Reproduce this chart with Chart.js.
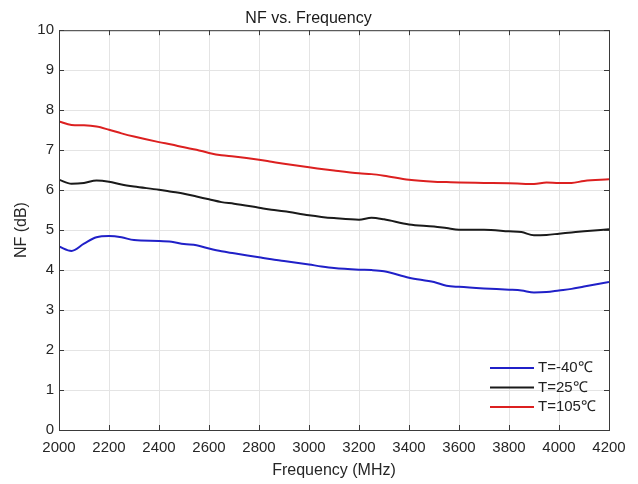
<!DOCTYPE html>
<html>
<head>
<meta charset="utf-8">
<script src="https://cdn.jsdelivr.net/npm/chart.js@4"></script>
<style>
  html, body { margin: 0; padding: 0; background: #fff; }
  #wrap { width: 638px; height: 484px; }
</style>
</head>
<body>
<div id="wrap"><canvas id="grafico" width="638" height="484"></canvas></div>
<script>
const freq = [2000, 2050, 2100, 2150, 2200, 2250, 2300, 2400, 2450, 2500, 2550, 2600, 2650, 2700,
  2800, 2850, 2900, 3000, 3050, 3100, 3200, 3250, 3300, 3400, 3500, 3550, 3600, 3700, 3800, 3850,
  3900, 3950, 4000, 4050, 4100, 4200];

const nfMinus40 = [4.59, 4.48, 4.66, 4.82, 4.85, 4.82, 4.75, 4.73, 4.71, 4.65, 4.62, 4.54, 4.47, 4.42,
  4.32, 4.27, 4.23, 4.14, 4.09, 4.05, 4.01, 4.00, 3.97, 3.81, 3.70, 3.61, 3.58, 3.54, 3.51, 3.49,
  3.44, 3.45, 3.49, 3.53, 3.59, 3.70];

const nf25 = [6.26, 6.16, 6.18, 6.24, 6.21, 6.14, 6.09, 6.01, 5.96, 5.91, 5.84, 5.77, 5.70, 5.66,
  5.56, 5.51, 5.47, 5.37, 5.33, 5.30, 5.26, 5.31, 5.27, 5.14, 5.09, 5.05, 5.01, 5.01, 4.97, 4.95,
  4.87, 4.88, 4.91, 4.94, 4.97, 5.02];

const nf105 = [7.72, 7.63, 7.62, 7.59, 7.51, 7.42, 7.34, 7.20, 7.14, 7.07, 7.01, 6.93, 6.87, 6.84,
  6.76, 6.71, 6.66, 6.57, 6.53, 6.49, 6.42, 6.40, 6.36, 6.26, 6.21, 6.20, 6.19, 6.18, 6.17, 6.16,
  6.15, 6.19, 6.18, 6.18, 6.23, 6.27];

const xTicks = [2000, 2200, 2400, 2600, 2800, 3000, 3200, 3400, 3600, 3800, 4000, 4200];
const yTicks = [0, 1, 2, 3, 4, 5, 6, 7, 8, 9, 10];

const serie = (valores) => freq.map((f, i) => ({ x: f, y: valores[i] }));

// caixa, ticks para dentro e legenda estilo MATLAB
const caixaPlugin = {
  id: 'caixa',
  afterDraw(chart) {
    const { ctx, chartArea: a, scales: { x, y } } = chart;
    ctx.save();
    ctx.strokeStyle = '#3a3a3a';
    ctx.lineWidth = 1;
    ctx.strokeRect(a.left + 0.5, a.top + 0.5, a.right - a.left, a.bottom - a.top);
    ctx.beginPath();
    xTicks.forEach(t => {
      const px = Math.round(x.getPixelForValue(t)) + 0.5;
      ctx.moveTo(px, a.bottom); ctx.lineTo(px, a.bottom - 5);
      ctx.moveTo(px, a.top); ctx.lineTo(px, a.top + 5);
    });
    yTicks.forEach(t => {
      const py = Math.round(y.getPixelForValue(t)) + 0.5;
      ctx.moveTo(a.left, py); ctx.lineTo(a.left + 5, py);
      ctx.moveTo(a.right, py); ctx.lineTo(a.right - 5, py);
    });
    ctx.stroke();

    // legenda
    ctx.font = '15px "Liberation Sans", Arial, sans-serif';
    ctx.textBaseline = 'middle';
    ctx.fillStyle = '#222';
    chart.data.datasets.forEach((ds, i) => {
      const ly = 368 + i * 19.5;
      ctx.strokeStyle = ds.borderColor;
      ctx.lineWidth = 2;
      ctx.beginPath();
      ctx.moveTo(490, ly); ctx.lineTo(534, ly);
      ctx.stroke();
      ctx.fillText(ds.label, 538, ly);
    });
    ctx.restore();
  }
};

const ctxGrafico = document.getElementById('grafico').getContext('2d');

new Chart(ctxGrafico, {
  type: 'line',
  data: {
    datasets: [
      { label: 'T=-40℃', data: serie(nfMinus40), borderColor: '#2020c8' },
      { label: 'T=25℃', data: serie(nf25), borderColor: '#1a1a1a' },
      { label: 'T=105℃', data: serie(nf105), borderColor: '#dc2020' }
    ]
  },
  options: {
    responsive: false,
    animation: false,
    layout: { padding: { top: 0, right: 29, bottom: 0, left: 8 } },
    elements: {
      point: { radius: 0 },
      line: { borderWidth: 2, tension: 0.3, cubicInterpolationMode: 'monotone' }
    },
    plugins: {
      legend: { display: false },
      tooltip: { enabled: false },
      title: {
        display: true,
        text: 'NF vs. Frequency',
        color: '#1a1a1a',
        font: { family: '"Liberation Sans", Arial, sans-serif', size: 16, weight: 'normal' },
        padding: { top: 9, bottom: 2 }
      }
    },
    scales: {
      x: {
        type: 'linear',
        min: 2000,
        max: 4200,
        afterBuildTicks: s => { s.ticks = xTicks.map(v => ({ value: v })); },
        afterFit: s => { s.height = 54; },
        ticks: {
          color: '#262626',
          font: { family: '"Liberation Sans", Arial, sans-serif', size: 15 },
          padding: 9,
          maxRotation: 0,
          callback: v => String(v)
        },
        grid: { color: '#e4e4e4', drawTicks: false },
        border: { display: false },
        title: {
          display: true,
          text: 'Frequency (MHz)',
          color: '#262626',
          font: { family: '"Liberation Sans", Arial, sans-serif', size: 16 },
          padding: { top: 4 }
        }
      },
      y: {
        min: 0,
        max: 10,
        afterBuildTicks: s => { s.ticks = yTicks.map(v => ({ value: v })); },
        afterFit: s => { s.width = 51; },
        ticks: {
          color: '#262626',
          font: { family: '"Liberation Sans", Arial, sans-serif', size: 15 },
          padding: 5
        },
        grid: { color: '#e4e4e4', drawTicks: false },
        border: { display: false },
        title: {
          display: true,
          text: 'NF (dB)',
          color: '#262626',
          font: { family: '"Liberation Sans", Arial, sans-serif', size: 16 },
          padding: { bottom: 4 }
        }
      }
    }
  },
  plugins: [caixaPlugin]
});
</script>
</body>
</html>
